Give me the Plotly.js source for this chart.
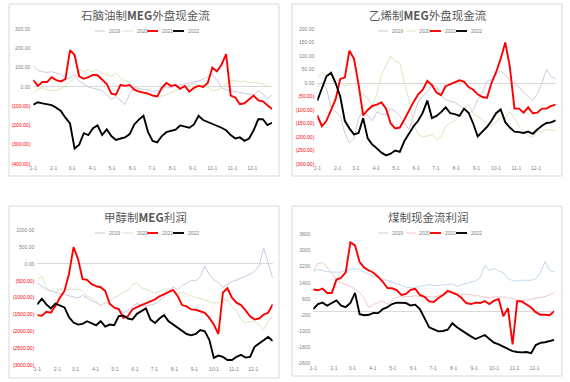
<!DOCTYPE html>
<html>
<head>
<meta charset="utf-8">
<script src="https://cdn.plot.ly/plotly-3.0.1.min.js"></script>
<style>html,body{margin:0;padding:0;background:#fff;}#chart{width:570px;height:382px;}</style>
</head>
<body>
<div id="chart"></div>
<script>
// ---------- data ----------
const seriesNames = ['2019', '2020', '2021', '2022'];
const monthTicks = ['1-1','2-1','3-1','4-1','5-1','6-1','7-1','8-1','9-1','10-1','11-1','12-1'];
const titles = ['石脑油制<b>MEG</b>外盘现金流', '乙烯制<b>MEG</b>外盘现金流', '甲醇制<b>MEG</b>利润', '煤制现金流利润'];

// weekly readings, 1-1 .. 12-31
const naphtha2019 = [110,85,78,75,78,70,65,45,45,65,30,15,0,-8,-12,-18,-40,-65,-50,-70,-92,-35,-5,-8,-15,-15,-25,-20,-10,0,-5,5,10,15,20,25,30,40,50,65,35,-5,-15,-20,-25,-30,-35,-40,-42,-20,-35,-65,-40];
const naphtha2020 = [-36,-10,-5,-15,-20,-19,-10,5,25,45,90,80,85,78,88,70,65,55,72,45,30,25,5,-15,-30,-35,-45,-50,-48,-40,-30,-20,-10,0,10,15,10,5,0,-20,-15,-5,15,30,35,25,30,20,25,20,15,5,0];
const naphtha2021 = [35,5,25,25,50,35,28,40,190,165,55,42,50,62,60,40,15,-35,-40,10,5,10,-15,-25,-30,-35,-45,-50,-5,20,5,10,-10,5,-25,-5,5,0,20,100,80,115,170,-45,-55,-90,-85,-65,-45,-70,-75,-95,-115];
const naphtha2022 = [-93,-80,-86,-90,-95,-108,-125,-160,-190,-320,-300,-240,-250,-215,-200,-250,-220,-255,-275,-268,-262,-245,-195,-170,-150,-235,-280,-288,-255,-235,-228,-222,-200,-208,-212,-195,-150,-172,-182,-190,-200,-212,-225,-250,-268,-262,-280,-268,-225,-168,-168,-198,-186];

const ethylene2019 = [-15,2,-20,-90,-105,-122,-185,-222,-205,-130,-102,-120,-140,-107,-115,-118,-95,-105,-122,-150,-172,-120,-70,-50,-32,-9,-12,-48,-62,-68,-72,-83,-95,-115,-100,-62,-38,5,12,30,45,30,10,0,-15,-35,-50,-65,-40,0,50,25,15];
const ethylene2020 = [16,40,25,35,15,0,-12,-5,-2,-15,-45,-55,-85,-40,30,65,100,80,75,0,-60,-150,-190,-200,-195,-192,-210,-200,-160,-148,-140,-122,-95,-78,-115,-125,-135,-150,-158,-145,-128,-132,-105,-130,-160,-180,-195,-200,-178,-182,-172,-175,-178];
const ethylene2021 = [-120,-160,-140,-100,-60,15,20,120,90,-5,-120,-100,-85,-80,-72,-95,-150,-168,-165,-135,-100,-70,-42,-25,8,-8,-35,-45,-12,-5,4,10,5,-15,-25,-42,-52,-55,0,40,90,150,60,-95,-95,-110,-90,-112,-110,-95,-95,-85,-80];
const ethylene2022 = [-65,-22,25,38,0,-50,-140,-168,-190,-185,-130,-205,-228,-242,-258,-268,-262,-250,-255,-215,-190,-160,-140,-110,-65,-130,-122,-108,-90,-112,-115,-122,-95,-110,-150,-198,-180,-163,-140,-112,-98,-145,-165,-180,-182,-185,-180,-188,-172,-158,-148,-146,-138];

const methanol2019 = [-560,-660,-760,-800,-850,-880,-910,-940,-990,-1010,-930,-1020,-1100,-1150,-1240,-1140,-1200,-1300,-1380,-1450,-1380,-1280,-1160,-1240,-1250,-1220,-1180,-1100,-950,-800,-680,-760,-640,-580,-480,-500,-380,-60,-320,-460,-560,-700,-600,-520,-480,-420,-380,-300,-220,-60,480,50,-420];
const methanol2020 = [-465,-350,-700,-800,-830,-750,-740,-770,-760,-740,-810,-960,-1010,-1100,-1230,-1150,-1080,-1000,-940,-860,-770,-620,-560,-700,-740,-800,-860,-820,-760,-810,-820,-860,-850,-900,-950,-1000,-1020,-1060,-1100,-1160,-1150,-1120,-1060,-1250,-1400,-1650,-1750,-1700,-1720,-1800,-1950,-1700,-1560];
const methanol2021 = [-1520,-1540,-1420,-1450,-1250,-1000,-800,-300,500,150,-450,-470,-600,-660,-690,-800,-1180,-1300,-1340,-1600,-1550,-1350,-1280,-1220,-1180,-1100,-1050,-960,-900,-820,-770,-950,-1220,-1260,-1350,-1360,-1400,-1450,-1600,-1800,-2080,-850,-720,-1000,-1150,-1220,-1380,-1554,-1650,-1620,-1500,-1450,-1200];
const methanol2022 = [-1200,-1030,-1200,-1320,-1180,-1240,-1290,-1580,-1740,-1800,-1780,-1700,-1750,-1820,-1700,-1860,-1800,-1820,-1550,-1530,-1620,-1650,-1480,-1400,-1320,-1650,-1750,-1620,-1520,-1700,-1800,-1880,-2000,-2080,-2120,-2080,-1960,-2000,-2250,-2790,-2720,-2760,-2850,-2850,-2760,-2700,-2780,-2760,-2460,-2360,-2250,-2170,-2290];

const coal2019 = [1970,2060,2020,1950,1930,1930,1930,2000,2070,2100,2050,1930,1820,1720,1660,1600,1510,1430,1330,1270,1190,1150,1160,1230,1260,1310,1260,1290,1300,1310,1350,1230,1320,1380,1430,1500,1650,2250,2020,2100,2000,1900,1600,1520,1480,1540,1520,1530,1600,1900,2450,2020,1930];
const coal2020 = [2020,2350,2400,2150,1900,1550,1400,1320,1230,1080,930,620,180,330,430,500,330,500,680,710,700,720,760,720,690,710,690,760,820,900,920,880,820,840,820,780,740,690,660,700,710,700,680,600,550,520,540,600,640,690,720,800,920];
const coal2021 = [1070,1030,1120,900,900,1560,1650,1920,3400,3250,2430,2150,2010,1900,1690,1450,1140,1130,1040,800,850,1050,1100,800,710,480,450,650,800,1000,920,820,650,400,350,420,400,500,350,520,600,-250,150,-1650,500,480,330,180,-50,-180,-180,-200,0];
const coal2022 = [100,350,420,270,400,530,270,200,400,900,-150,-200,-180,-90,-100,100,200,350,420,400,400,280,320,100,-350,-800,-900,-1000,-980,-920,-600,-800,-950,-1120,-1250,-1380,-1260,-1180,-1380,-1560,-1650,-1760,-1860,-1980,-2020,-2040,-2020,-2080,-1680,-1570,-1540,-1480,-1420];

const naphthaTicks = [300,200,100,0,-100,-200,-300,-400];
const naphthaTickText = ['300.00','200.00','100.00','0.00','(100.00)','(200.00)','(300.00)','(400.00)'];
const ethyleneTicks = [200,150,100,50,0,-50,-100,-150,-200,-250,-300];
const ethyleneTickText = ['200.00','150.00','100.00','50.00','0.00','(50.00)','(100.00)','(150.00)','(200.00)','(250.00)','(300.00)'];
const methanolTicks = [1000,500,0,-500,-1000,-1500,-2000,-2500,-3000];
const methanolTickText = ['1000.00','500.00','0.00','(500.00)','(1000.00)','(1500.00)','(2000.00)','(2500.00)','(3000.00)'];
const coalTicks = [3800,3000,2200,1400,600,-200,-1000,-1800,-2600];
const coalTickText = ['3800','3000','2200','1400','600','-200','-1000','-1800','-2600'];

// ---------- helpers ----------
const W = 570, H = 382;
const px = v => v / W;
const py = v => 1 - v / H;
function weekDates(n) {
  const out = [];
  for (let i = 0; i < n; i++) {
    const d = new Date(Date.UTC(2022, 0, 1 + 7 * i));
    out.push(d.toISOString().slice(0, 10));
  }
  return out;
}
const monthDates = monthTicks.map((t, i) => '2022-' + String(i + 1).padStart(2, '0') + '-01');
const redNeg = arr => arr.map(t => t.startsWith('(') ? '<span style="color:#ff0000">' + t + '</span>' : t);

const faintA = ['#cdc7e1', '#dce4bd'];
const faintB = ['#c2d6ef', '#f2c6c6'];
const panels = [
  {title: titles[0], data: [naphtha2019, naphtha2020, naphtha2021, naphtha2022], faint: faintA,
   box: [9, 4, 279, 176], plot: [33.3, 29, 272, 164], range: [-400, 300], ticks: naphthaTicks, text: redNeg(naphthaTickText)},
  {title: titles[1], data: [ethylene2019, ethylene2020, ethylene2021, ethylene2022], faint: faintA,
   box: [292, 4, 562, 176], plot: [317.3, 29, 555.7, 164], range: [-300, 200], ticks: ethyleneTicks, text: redNeg(ethyleneTickText)},
  {title: titles[2], data: [methanol2019, methanol2020, methanol2021, methanol2022], faint: faintA,
   box: [9, 206, 279, 378], plot: [37.3, 230.3, 272.7, 365], range: [-3000, 1000], ticks: methanolTicks, text: redNeg(methanolTickText)},
  {title: titles[3], data: [coal2019, coal2020, coal2021, coal2022], faint: faintB,
   box: [292, 206, 562, 376], plot: [313.3, 234.3, 554.3, 363.7], range: [-2600, 3800], ticks: coalTicks, text: coalTickText}
];

const traces = [];
const layout = {
  width: W, height: H, margin: {l: 0, r: 0, t: 0, b: 0},
  paper_bgcolor: '#ffffff', plot_bgcolor: 'rgba(0,0,0,0)',
  showlegend: false, shapes: [], annotations: [],
  font: {family: 'Liberation Sans, Arial, sans-serif', color: '#595959'}
};
const legOffsets = [86, 114, 138, 164];
const legLens = [10, 10, 11, 11];

panels.forEach((p, k) => {
  const n = k + 1;
  const xa = 'x' + (n === 1 ? '' : n), ya = 'y' + (n === 1 ? '' : n);
  const colors = [p.faint[0], p.faint[1], '#ff0000', '#000000'];
  const widths = [1, 1, 1.9, 1.9];
  p.data.forEach((vals, i) => {
    traces.push({
      type: 'scatter', mode: 'lines', name: seriesNames[i],
      x: weekDates(vals.length), y: vals, xaxis: xa, yaxis: ya,
      line: {color: colors[i], width: widths[i]}, hoverinfo: 'skip'
    });
  });
  layout['xaxis' + (n === 1 ? '' : n)] = {
    domain: [px(p.plot[0]), px(p.plot[2])], anchor: ya, type: 'date',
    range: ['2022-01-01', '2022-12-31'], tickvals: monthDates, ticktext: monthTicks,
    showgrid: false, zeroline: false, showline: false, ticks: '',
    tickfont: {size: 5, color: '#7f7f7f'}, fixedrange: true
  };
  layout['yaxis' + (n === 1 ? '' : n)] = {
    domain: [py(p.plot[3]), py(p.plot[1])], anchor: xa, range: p.range,
    tickvals: p.ticks, ticktext: p.text, showgrid: false, showline: false, ticks: '',
    zeroline: true, zerolinecolor: '#d9d9d9', zerolinewidth: 1,
    tickfont: {size: 5, color: '#7f7f7f'}, ticklabelstandoff: 2, fixedrange: true
  };
  // chart-area border
  layout.shapes.push({type: 'rect', xref: 'paper', yref: 'paper',
    x0: px(p.box[0]), x1: px(p.box[2]), y0: py(p.box[3]), y1: py(p.box[1]),
    line: {color: '#d9d9d9', width: 1}, fillcolor: 'rgba(0,0,0,0)'});
  // title
  layout.annotations.push({xref: 'paper', yref: 'paper', x: px((p.box[0] + p.box[2]) / 2 + 1), y: py(p.box[1] + 11),
    text: p.title, showarrow: false, xanchor: 'center', yanchor: 'middle',
    font: {family: 'Noto Sans CJK SC, sans-serif', size: 11.5, color: '#595959'}});
  // legend
  const ly = p.box[1] + 27;
  seriesNames.forEach((nm, i) => {
    const x0 = p.box[0] + legOffsets[i];
    layout.shapes.push({type: 'line', xref: 'paper', yref: 'paper',
      x0: px(x0), x1: px(x0 + legLens[i]), y0: py(ly), y1: py(ly),
      line: {color: colors[i], width: widths[i]}});
    layout.annotations.push({xref: 'paper', yref: 'paper', x: px(x0 + legLens[i] + 1.5), y: py(ly),
      text: nm, showarrow: false, xanchor: 'left', yanchor: 'middle',
      font: {size: 5, color: '#7f7f7f'}});
  });
});

Plotly.newPlot('chart', traces, layout, {staticPlot: true, displayModeBar: false});
</script>
</body>
</html>
